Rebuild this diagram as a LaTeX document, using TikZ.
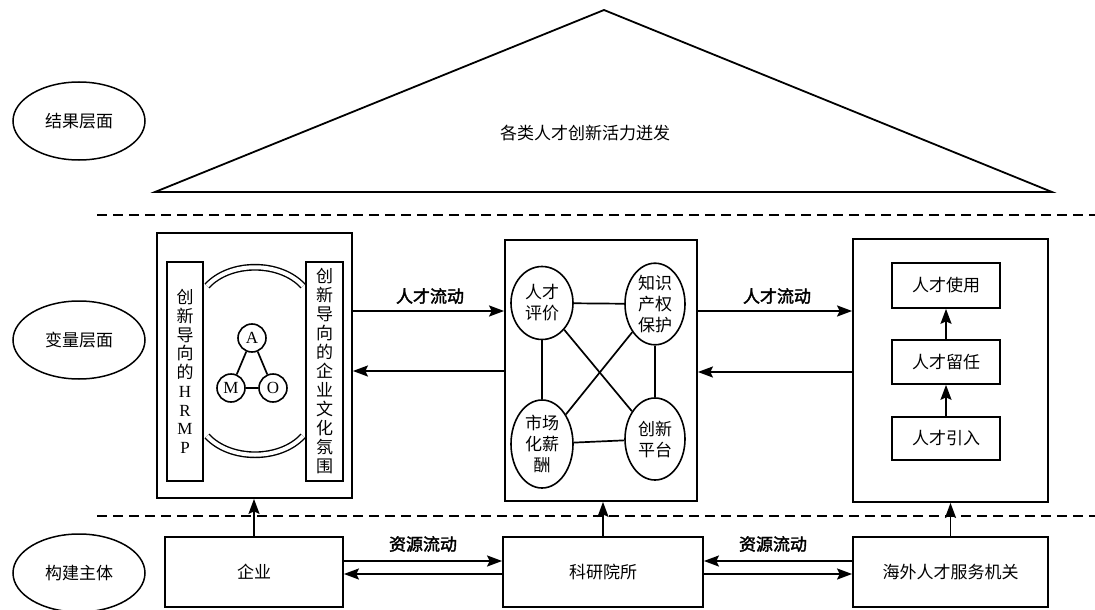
\documentclass[tikz,border=0pt]{standalone}
\usepackage{fontspec}
\setmainfont{Liberation Serif}
\newfontfamily\cjk[AutoFakeBold=2]{Noto Sans CJK SC}
\usetikzlibrary{arrows.meta,shapes.geometric}
\begin{document}
\begin{tikzpicture}[x=1pt,y=-1pt,
  every node/.style={font=\cjk\fontsize{17}{21}\selectfont, inner sep=0pt},
  box/.style={draw, line width=1.8pt, rectangle},
  ibox/.style={draw, line width=1.7pt, rectangle},
  lvl/.style={draw, ellipse, line width=1.5pt, minimum width=132pt, minimum height=78pt},
  oval/.style={draw, ellipse, line width=1.6pt, align=center},
  small/.style={draw, circle, line width=1.6pt, minimum size=28pt, font=\rmfamily\fontsize{17}{17}\selectfont},
  arr/.style={-{Stealth[length=15pt,width=11pt,inset=2.5pt]}, line width=1.8pt},
  ln/.style={line width=1.7pt},
  lab/.style={font=\cjk\bfseries\fontsize{17}{20}\selectfont},
  sep/.style={dash pattern=on 10pt off 6pt, line width=1.7pt},
  vtext/.style={align=center, font=\cjk\fontsize{17}{18.75}\selectfont}]
\useasboundingbox (0,0) rectangle (1095,610);

% result layer
\draw[line width=1.8pt, line join=miter] (604,10) -- (155,192) -- (1052,192) -- cycle;
\node (res) at (585,133) {各类人才创新活力迸发};

% separators
\draw[sep] (97,215) -- (1095,215);
\draw[sep] (97,516) -- (1095,516);

% level ellipses
\node[lvl] (L1) at (79,121) {结果层面};
\node[lvl] (L2) at (79,340) {变量层面};
\node[lvl] (L3) at (79,573) {构建主体};

% left variable box
\node[box, minimum width=195pt, minimum height=265pt] (LB) at (254.5,365.5) {};
\node[ibox, vtext, minimum width=36pt, minimum height=219pt] (HR) at (185,371.5)
  {创\\新\\导\\向\\的\\{\rmfamily H}\\{\rmfamily R}\\{\rmfamily M}\\{\rmfamily P}};
\node[ibox, align=center, font=\cjk\fontsize{17}{19}\selectfont, minimum width=37pt, minimum height=219pt] (CU) at (324.5,371.5)
  {创\\新\\导\\向\\的\\企\\业\\文\\化\\氛\\围};
\draw[line width=1.4pt, double distance=4pt] (207,286) .. controls (230,261) and (280,261) .. (303,286);
\draw[line width=1.4pt, double distance=4pt] (207,436) .. controls (230,461) and (280,461) .. (303,436);
\node[small] (A) at (252,338) {A};
\node[small] (M) at (231,388) {M};
\node[small] (O) at (273,388) {O};
\draw[ln] (A) -- (M);
\draw[ln] (A) -- (O);
\draw[ln] (M) -- (O);

% middle variable box
\node[box, minimum width=192pt, minimum height=261pt] (MB) at (601,370.5) {};
\node[oval, minimum width=62pt, minimum height=73pt] (P1) at (542,303) {人才\\评价};
\node[oval, minimum width=60pt, minimum height=78pt] (P2) at (655,304) {知识\\产权\\保护};
\node[oval, minimum width=62pt, minimum height=88pt] (P3) at (542,444) {市场\\化薪\\酬};
\node[oval, minimum width=60pt, minimum height=82pt] (P4) at (655,439) {创新\\平台};
\draw[ln] (P1) -- (P2);
\draw[ln] (P1) -- (P3);
\draw[ln] (P2) -- (P4);
\draw[ln] (P3) -- (P4);
\draw[ln] (P1) -- (P4);
\draw[ln] (P2) -- (P3);

% right variable box
\node[box, minimum width=195pt, minimum height=263pt] (RB) at (950.5,370.5) {};
\node[ibox, minimum width=108pt, minimum height=45pt] (U) at (946,285.5) {人才使用};
\node[ibox, minimum width=108pt, minimum height=44pt] (R) at (946,362) {人才留任};
\node[ibox, minimum width=108pt, minimum height=43pt] (I) at (946,438.5) {人才引入};
\draw[arr] (I) -- (R);
\draw[arr] (R) -- (U);

% arrows between variable boxes
\draw[arr] (LB.east |- 0,311) -- (MB.west |- 0,311);
\draw[arr] (MB.west |- 0,371) -- (LB.east |- 0,371);
\draw[arr] (MB.east |- 0,311) -- (RB.west |- 0,311);
\draw[arr] (RB.west |- 0,372) -- (MB.east |- 0,372);
\node[lab] (t1) at (430,296) {人才流动};
\node[lab] (t2) at (777,296) {人才流动};

% bottom actors
\node[box, minimum width=178pt, minimum height=70pt] (E) at (254,572) {企业};
\node[box, minimum width=200pt, minimum height=70pt] (K) at (603,572) {科研院所};
\node[box, minimum width=195pt, minimum height=70pt] (H) at (950.5,572) {海外人才服务机关};
\draw[arr] (E.east |- 0,561) -- (K.west |- 0,561);
\draw[arr] (K.west |- 0,574) -- (E.east |- 0,574);
\draw[arr] (H.west |- 0,561) -- (K.east |- 0,561);
\draw[arr] (K.east |- 0,574) -- (H.west |- 0,574);
\node[lab] (t3) at (423,544) {资源流动};
\node[lab] (t4) at (773,544) {资源流动};

% upward arrows
\draw[arr] (E.north) -- (E.north |- LB.south);
\draw[arr] (K.north) -- (K.north |- MB.south);
\draw[arr] (H.north) -- (H.north |- RB.south);
\end{tikzpicture}
\end{document}
